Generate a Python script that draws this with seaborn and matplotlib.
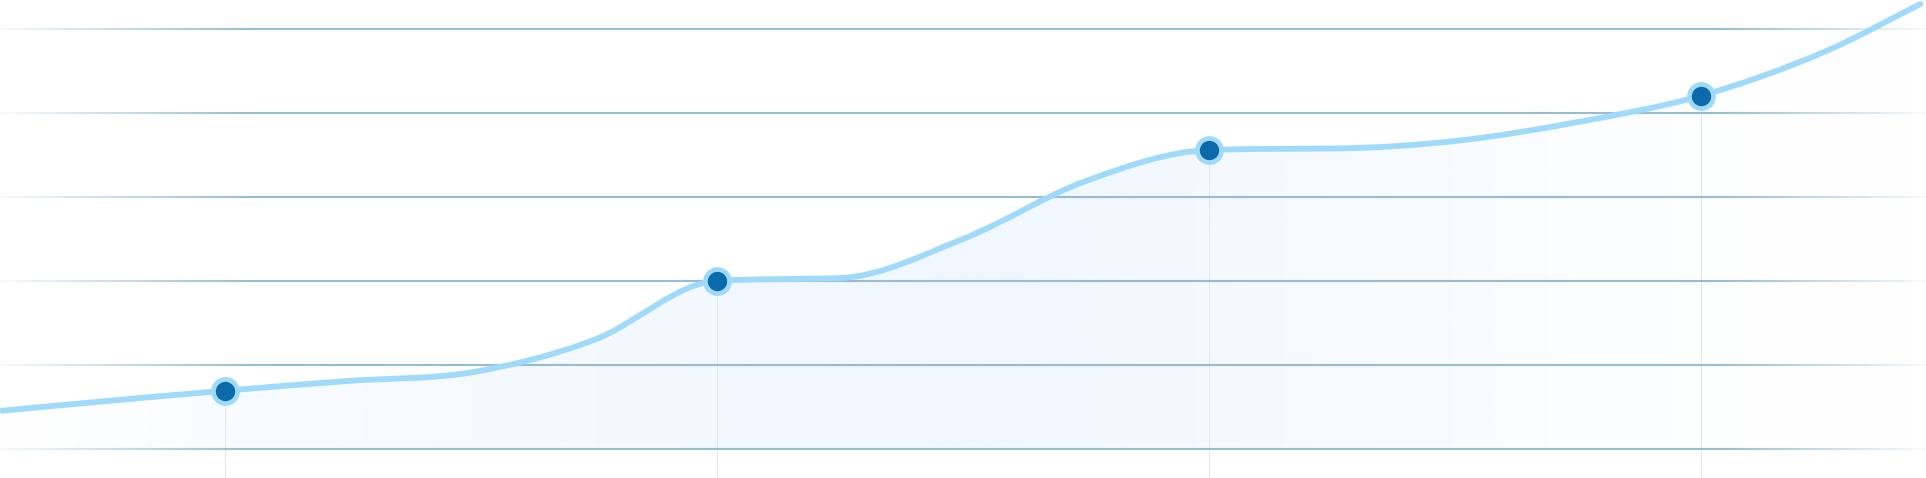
import matplotlib

matplotlib.use("Agg")
import matplotlib.pyplot as plt
import numpy as np
import pandas as pd
import seaborn as sns
from matplotlib.collections import LineCollection
from matplotlib.colors import to_rgb
from matplotlib.patches import PathPatch
from matplotlib.path import Path

# curve: x in slot units (highlighted points sit on odd slots)
line_x = [0.094, 0.5, 1.0, 1.5, 2.0, 2.5, 3.0, 3.5, 4.0, 4.5, 5.0, 5.5, 6.0, 6.5, 7.0, 7.5, 7.892]
line_y = [4.55, 5.65, 6.93, 8.09, 9.1, 12.96, 20.0, 20.33, 24.97, 31.87, 35.55, 35.73,
          36.62, 38.88, 42.0, 47.2, 52.9]

# highlighted points
point_x = [1, 3, 5, 7]
point_y = [6.93, 20.0, 35.55, 42.0]

grid_levels = [0, 10, 20, 30, 40, 50]

X_LIM = (0.0854, 7.915)
Y_LIM = (-3.45, 53.39)

LINE_COLOR = "#9fdafb"
DOT_COLOR = "#0c69aa"
GRID_COLOR = "#97bbd4"
STEM_COLOR = "#e4e8ec"
FILL_COLOR = "#e4f1fe"


def _fc_slopes(x, y):
    # Fritsch-Carlson monotone tangents (secant average, then limited)
    x = np.asarray(x, float)
    y = np.asarray(y, float)
    d = np.diff(y) / np.diff(x)
    m = np.empty_like(y)
    m[0], m[-1] = d[0], d[-1]
    m[1:-1] = (d[:-1] + d[1:]) / 2
    for k in range(1, len(x) - 1):
        if d[k - 1] * d[k] <= 0:
            m[k] = 0.0
    for k in range(len(d)):
        if d[k] == 0:
            m[k] = m[k + 1] = 0.0
            continue
        a, b = m[k] / d[k], m[k + 1] / d[k]
        r = a * a + b * b
        if r > 9:
            t = 3 / np.sqrt(r)
            m[k], m[k + 1] = t * a * d[k], t * b * d[k]
    return m


def _smooth_verts(x, y):
    # cubic hermite pieces written as bezier segments, drawn by matplotlib itself
    m = _fc_slopes(x, y)
    verts = [(x[0], y[0])]
    codes = [Path.MOVETO]
    for k in range(len(x) - 1):
        h = x[k + 1] - x[k]
        verts += [
            (x[k] + h / 3, y[k] + m[k] * h / 3),
            (x[k + 1] - h / 3, y[k + 1] - m[k + 1] * h / 3),
            (x[k + 1], y[k + 1]),
        ]
        codes += [Path.CURVE4] * 3
    return verts, codes


def main() -> None:
    sns.set_theme(style="white")

    fig = plt.figure(figsize=(19.26, 4.78), dpi=100)
    ax = fig.add_axes([0, 0, 1, 1])

    verts, codes = _smooth_verts(line_x, line_y)

    # area under the curve, soft horizontal gradient
    area = Path(
        verts + [(line_x[-1], 0), (line_x[0], 0), (line_x[0], line_y[0])],
        codes + [Path.LINETO, Path.LINETO, Path.CLOSEPOLY],
    )
    clip = PathPatch(area, facecolor="none", edgecolor="none", transform=ax.transData)
    ax.add_patch(clip)
    frac = np.linspace(0, 1, 600)
    alpha = np.interp(frac, [0, 0.117, 0.372, 0.52, 0.63, 0.8, 0.9, 1.0],
                      [0.0, 0.22, 0.5, 0.55, 0.42, 0.15, 0.04, 0.0])
    grad = np.zeros((1, frac.size, 4))
    grad[..., :3] = to_rgb(FILL_COLOR)
    grad[..., 3] = alpha
    im = ax.imshow(grad, extent=[X_LIM[0], X_LIM[1], 0, max(line_y)], aspect="auto",
                   origin="lower", interpolation="bilinear", zorder=0)
    im.set_clip_path(clip)

    # stems from the highlighted points down
    ax.vlines(point_x, Y_LIM[0], point_y, color=STEM_COLOR, lw=0.8, zorder=1)

    # grid lines that fade out at both ends
    xs = np.linspace(X_LIM[0], X_LIM[1], 400)
    f = (xs - X_LIM[0]) / (X_LIM[1] - X_LIM[0])
    galpha = np.interp(f[:-1], [0, 0.13, 0.89, 1.0], [0.08, 1.0, 1.0, 0.06])
    rgb = to_rgb(GRID_COLOR)
    for level in grid_levels:
        segs = [[(xs[i], level), (xs[i + 1], level)] for i in range(len(xs) - 1)]
        lc = LineCollection(segs, colors=[(*rgb, a) for a in galpha], linewidths=1.5,
                            zorder=2)
        ax.add_collection(lc)

    # the curve
    curve = PathPatch(Path(verts, codes), facecolor="none", edgecolor=LINE_COLOR,
                      lw=4.2, capstyle="round", joinstyle="round", zorder=3,
                      clip_on=False)
    ax.add_patch(curve)

    points = pd.DataFrame({"x": point_x, "y": point_y})
    sns.scatterplot(data=points, x="x", y="y", s=300, color=DOT_COLOR,
                    edgecolor=LINE_COLOR, linewidth=3.4, zorder=4, ax=ax, legend=False)
    ax.set_xlim(*X_LIM)
    ax.set_ylim(*Y_LIM)
    ax.axis("off")

    fig.savefig("out.png", dpi=100)


if __name__ == "__main__":
    main()
